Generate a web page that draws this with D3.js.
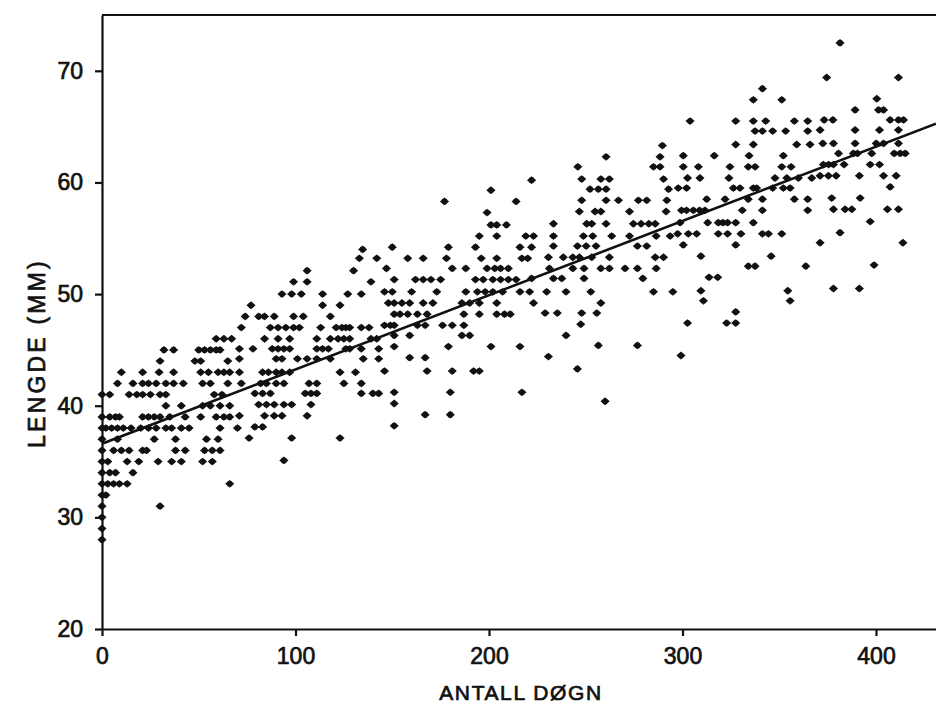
<!DOCTYPE html>
<html>
<head>
<meta charset="utf-8">
<script src="https://cdn.jsdelivr.net/npm/d3@7"></script>
<style>
  body { margin: 0; background: #fff; }
  text { font-family: "Liberation Sans", Arial, sans-serif; fill: #111; stroke: #111; stroke-width: 0.7px; }
</style>
</head>
<body>
<svg id="chart" width="936" height="704"></svg>
<script>
// Axis ticks and titles
const xTicks = [0, 100, 200, 300, 400];
const yTicks = [20, 30, 40, 50, 60, 70];
const xTitle = "ANTALL DØGN";
const yTitle = "LENGDE (MM)";

// Fitted growth line: length = intercept + slope * day
const fitIntercept = 36.6;
const fitSlope = 0.0665;

// Measured fish, [day, length mm], grouped by period
const days0to70 = [
  [59,46],[63,46],[67,46],
  [32,45],[37,45],[50,45],[53,45],[56,45],[59,45],[61,45],
  [30,44],[48,44],[51,44],[65,44],
  [10,43],[21,43],[29.5,43],[37,43],[51,43],[55,43],[60,43],[63,43],[66,43],
  [8,42],[16,42],[21,42],[24,42],[28,42],[33,42],[37,42],[42,42],[52,42],[56,42],[65,42],
  [0,41],[4,41],[14,41],[18,41],[21,41],[25,41],[30,41],[33,41],[58,41],[62,41],
  [33,40],[41,40],[52,40],[56,40],[61,40],[66,40],
  [0,39],[4,39],[7,39],[9,39],[21,39],[24,39],[27,39],[30,39],[35,39],[43,39],[51,39],[59,39],[63,39],[66,39],
  [0,38],[2,38],[5,38],[8,38],[11,38],[15,38],[20,38],[24,38],[28,38],[33,38],[36,38],[41,38],[45,38],[61,38],[70,38],
  [0,37],[8,37],[27,37],[38,37],[54,37],[60,37],
  [0,36],[6,36],[10,36],[14,36],[21,36],[23,36],[38,36],[43,36],[53,36],[57,36],[61,36],
  [0,35],[3,35],[13,35],[19,35],[29,35],[36,35],[41,35],[52,35],[57,35],
  [0,34],[4,34],[7,34],[16,34],
  [0,33],[3,33],[6,33],[9,33],[13,33],[66,33],
  [0,32],[2,32],[0,31],[30,31],[0,30],[0,29],[0,28]
];

const days71to145 = [
  [134.7,54],
  [133,53.2],[142,53.2],
  [106,52.1],[130,52.1],
  [99,51.1],[106,51.1],[139,51.1],
  [93,50],[98,50],[103,50],[114,50],[127,50],[134,50],
  [77,49],[114,49],[123,49],
  [74,48],[81,48],[84,48],[89,48],[99,48],[104,48],[118,48],
  [72,47],[87,47],[91,47],[95,47],[99,47],[102,47],[113,47],[121,47],[124,47],[126,47],[128,47],[134,47],[138,47],
  [84,46],[91,46],[97,46],[111,46],[118,46],[122,46],[125,46],[128,46],[139,46],[142,46],
  [71,45.1],[78,45.1],[88,45.1],[91,45.1],[94,45.1],[97,45.1],[111,45.1],[114,45.1],[117,45.1],[126,45.1],[128,45.1],[134,45.1],[143,45.1],
  [71,44.2],[90,44.2],[93,44.2],[101,44.2],[106,44.2],[111,44.2],[118,44.2],[135,44.2],[143,44.2],
  [71,43],[83,43],[86,43],[90,43],[93,43],[97,43],[123,43],[131,43],
  [72,42],[82,42],[85,42],[90,42],[94,42],[107,42],[111,42],[125,42],[134,42],
  [79,41.1],[83,41.1],[87,41.1],[105,41.1],[108,41.1],[111,41.1],[134,41.1],[140,41.1],[143,41.1],
  [81,40.1],[85,40.1],[89,40.1],[94,40.1],[98,40.1],[108,40.1],
  [71,39.1],[84,39.1],[89,39.1],[93,39.1],[106,39.1],
  [79,38.1],[83,38.1],
  [76,37.1],[98,37.1],[123,37.1],
  [94,35.1]
];

const days146to224 = [
  [222,60.2],[201,59.3],[177,58.3],[214,58.3],[199,57.3],
  [201,56.2],[204,56.2],[209,56.2],
  [195,55.2],[204,55.2],[219,55.2],[223,55.2],
  [150,54.2],[179,54.2],[193,54.2],[216,54.2],[222,54.2],
  [158,53.2],[166,53.2],[178,53.2],[196,53.2],[204,53.2],[217,53.2],[220,53.2],
  [147,52.3],[181,52.3],[188,52.3],[199,52.3],[203,52.3],[206,52.3],[210,52.3],
  [151,51.3],[162,51.3],[166,51.3],[170,51.3],[175,51.3],[193,51.3],[197,51.3],[202,51.3],[206,51.3],[210,51.3],[214,51.3],[222,51.4],
  [146,50.2],[150,50.2],[160,50.2],[173,50.2],[188,50.2],[194,50.2],[198,50.2],[202,50.2],[207,50.2],[216,50.2],[221,50.2],
  [148,49.2],[151,49.2],[155,49.2],[159,49.2],[166,49.2],[171,49.2],[186,49.2],[190,49.2],[195,49.2],[204,49.2],[223,49.2],
  [151,48.2],[154,48.2],[158,48.2],[163,48.2],[168,48.2],[187,48.2],[195,48.2],[204,48.2],[208,48.2],[211,48.2],
  [146,47.2],[149,47.2],[151,47.2],[163,47.2],[167,47.2],[176,47.2],[181,47.2],[187,47.2],
  [151,46.3],[159,46.3],[186,46.3],[190,46.3],
  [151,45.3],[179,45.3],[201,45.3],[216,45.3],
  [159,44.3],[167,44.3],
  [146,43.1],[168,43.1],[181,43.1],[192,43.1],[195,43.1],
  [151,41.2],[180,41.2],[217,41.2],
  [151,40.2],[167,39.2],[180,39.2],[151,38.2]
];

const days225to296 = [
  [289.6,63.3],
  [260.5,62.3],[288.4,62.3],
  [245.9,61.4],[285,61.4],[288.4,61.4],
  [247.9,60.3],[257.8,60.3],[262.2,60.3],[290.2,60.3],
  [252.2,59.4],[256.5,59.4],[260.5,59.4],[292.8,59.4],
  [247.9,58.4],[260.5,58.4],[266.9,58.4],[277.2,58.4],[281.5,58.4],[291.9,58.4],
  [246.7,57.4],[254.8,57.4],[257.8,57.4],[272.6,57.4],[291.5,57.4],
  [233.3,56.3],[250.5,56.3],[253.1,56.3],[260.5,56.3],[274.6,56.3],[278.6,56.3],[282.6,56.3],[285.9,56.3],
  [233.3,55.2],[248.8,55.2],[253.6,55.2],[263.4,55.2],[272.6,55.2],[286.4,55.2],[293.6,55.2],
  [233.3,54.3],[245.7,54.3],[250.2,54.3],[255.3,54.3],[276.7,54.3],[281.5,54.3],
  [230.7,53.3],[238.4,53.3],[243.3,53.3],[246.7,53.3],[253.1,53.3],[262.2,53.3],[285.9,53.3],[290.2,53.3],
  [231.2,52.3],[243.3,52.3],[249.1,52.3],[257.8,52.3],[262.2,52.3],[270.3,52.3],[276.7,52.3],[286.4,52.3],
  [233.3,51.4],[237.6,51.4],[249.1,51.4],[279.5,51.4],
  [229.8,50.2],[239.8,50.2],[252.6,50.2],[285,50.2],[295,50.2],
  [257.8,49.2],
  [229,48.3],[235.3,48.3],[247.9,48.3],[255.7,48.3],
  [247.4,47.3],[239.8,46.3],[256.5,45.4],[276.7,45.4],
  [230.7,44.4],[245.7,43.3],[260,40.4]
];

const days297to370 = [
  [341.3,68.4],
  [336.6,67.4],[351.3,67.4],
  [303.9,65.5],[327.5,65.5],[336.6,65.5],[343,65.5],[357.8,65.5],[364.7,65.5],
  [337.5,64.6],[341.3,64.6],[346.6,64.6],[353.3,64.6],[364.7,64.6],
  [327.5,63.4],[336.6,63.4],[359,63.4],[365.9,63.4],
  [300.4,62.4],[316.4,62.4],[334.4,62.4],[352.1,62.4],
  [300.4,61.4],[308.2,61.4],[324.5,61.4],[334,61.4],[337.5,61.4],[351.3,61.4],[356.1,61.4],
  [302.6,60.4],[309,60.4],[324,60.4],[347.8,60.4],[353.9,60.4],[359.9,60.4],[366.8,60.4],
  [297.8,59.5],[302.1,59.5],[326.3,59.5],[329.7,59.5],[336.6,59.5],[338.3,59.5],[346.6,59.5],[352.1,59.5],[355.6,59.5],
  [312.5,58.5],[322,58.5],[334,58.5],[341.3,58.5],[357.8,58.5],[364.7,58.5],
  [299.5,57.5],[302.1,57.5],[305.6,57.5],[308.8,57.5],[311.6,57.5],[330.9,57.5],[341.3,57.5],[364.7,57.5],
  [298.7,56.4],[313,56.4],[318.5,56.4],[320.9,56.4],[323.3,56.4],[327.5,56.4],[336.6,56.4],
  [297.5,55.4],[303,55.4],[307.3,55.4],[318.5,55.4],[323.3,55.4],[330.2,55.4],[341.3,55.4],[344.4,55.4],[351.3,55.4],
  [300.4,54.4],[327.5,54.4],
  [309.5,53.4],[345.8,53.4],
  [334,52.5],[337.5,52.5],[363.7,52.5],
  [313.7,51.5],[318.2,51.5],
  [309.5,50.3],[354.4,50.3],
  [310.8,49.4],[355.6,49.4],
  [327.5,48.4],
  [302.6,47.4],[322.8,47.4],[327.5,47.4],
  [299.2,44.5]
];

const days371to415 = [
  [381.4,72.5],
  [374.5,69.4],[411.6,69.4],
  [400.4,67.5],
  [389.2,66.5],[401.3,66.5],[403.9,66.5],
  [373.2,65.6],[377.7,65.6],[407.3,65.6],[411.6,65.6],[414.2,65.6],
  [371.1,64.7],[389.2,64.7],[401.8,64.7],[411.6,64.7],
  [372.5,63.5],[378,63.5],[389.2,63.5],[400.1,63.5],[403.9,63.5],[411.6,63.5],
  [380.6,62.6],[388.3,62.6],[390.4,62.6],[397.8,62.6],[409.4,62.6],[412.5,62.6],[415.1,62.6],
  [372.8,61.6],[375.5,61.6],[378,61.6],[383.5,61.6],[397,61.6],[401.8,61.6],
  [371.1,60.6],[375.4,60.6],[379.4,60.6],[391.4,60.6],[403.9,60.6],[410.4,60.6],
  [407.3,59.6],
  [377.1,58.6],[391.8,58.6],
  [378,57.6],[384,57.6],[387.5,57.6],[405.9,57.6],[411.6,57.6],
  [397,56.5],[381.4,55.5],
  [371.1,54.6],[413.9,54.6],
  [399,52.6],
  [378,50.5],[391.4,50.5]
];

const measurements = [].concat(days0to70, days71to145, days146to224,
                               days225to296, days297to370, days371to415);

const svg = d3.select("#chart");
const plotLeft = 102, plotRight = 936, plotTop = 15, plotBottom = 629;

const x = d3.scaleLinear().domain([0, 431]).range([plotLeft, plotRight]);
const y = d3.scaleLinear().domain([20, 75]).range([plotBottom, plotTop]);

// Frame: top rule
svg.append("line")
  .attr("x1", plotLeft).attr("x2", plotRight)
  .attr("y1", plotTop).attr("y2", plotTop)
  .attr("stroke", "#111").attr("stroke-width", 2.2);

// Axes
const axisFont = "23px";
const gx = svg.append("g")
  .attr("transform", `translate(0,${plotBottom})`)
  .call(d3.axisBottom(x).tickValues(xTicks).tickSize(7).tickSizeOuter(0).tickPadding(12));
const gy = svg.append("g")
  .attr("transform", `translate(${plotLeft},0)`)
  .call(d3.axisLeft(y).tickValues(yTicks).tickSize(7).tickSizeOuter(0).tickPadding(12));

[gx, gy].forEach(g => {
  g.select(".domain").attr("stroke", "#111").attr("stroke-width", 2.2);
  g.selectAll(".tick line").attr("stroke", "#111").attr("stroke-width", 2.2);
  g.selectAll(".tick text")
    .attr("font-family", "'Liberation Sans', Arial, sans-serif")
    .attr("font-size", axisFont)
    .attr("fill", "#111")
    .attr("stroke", "#111")
    .attr("stroke-width", 0.7);
});

// Axis titles
svg.append("text")
  .attr("x", 521).attr("y", 700)
  .attr("text-anchor", "middle")
  .attr("font-size", "21px")
  .attr("letter-spacing", "1.6px")
  .text(xTitle);

svg.append("text")
  .attr("transform", "translate(45,353) rotate(-90)")
  .attr("text-anchor", "middle")
  .attr("font-size", "23px")
  .attr("letter-spacing", "3.2px")
  .text(yTitle);

// Plot area clip
svg.append("clipPath").attr("id", "plot-clip")
  .append("rect").attr("x", plotLeft).attr("y", plotTop)
  .attr("width", plotRight - plotLeft).attr("height", plotBottom - plotTop);

// Data markers: a rounded diamond dot
const dotType = {
  draw(ctx) {
    const w = 4.6, h = 3.9, r = 3.1;
    ctx.moveTo(-w, 0); ctx.lineTo(0, -h); ctx.lineTo(w, 0); ctx.lineTo(0, h); ctx.closePath();
    ctx.moveTo(r, 0); ctx.arc(0, 0, r, 0, 2 * Math.PI);
  }
};
const dot = d3.symbol().type(dotType);

svg.append("g")
  .selectAll("path")
  .data(measurements)
  .join("path")
  .attr("d", dot)
  .attr("transform", d => `translate(${x(d[0])},${y(d[1])})`)
  .attr("fill", "#111");

// Regression line
const fitLine = d3.line().x(d => x(d)).y(d => y(fitIntercept + fitSlope * d));
svg.append("path")
  .datum([0, 431])
  .attr("clip-path", "url(#plot-clip)")
  .attr("d", fitLine)
  .attr("fill", "none")
  .attr("stroke", "#111")
  .attr("stroke-width", 2.6);
</script>
</body>
</html>
